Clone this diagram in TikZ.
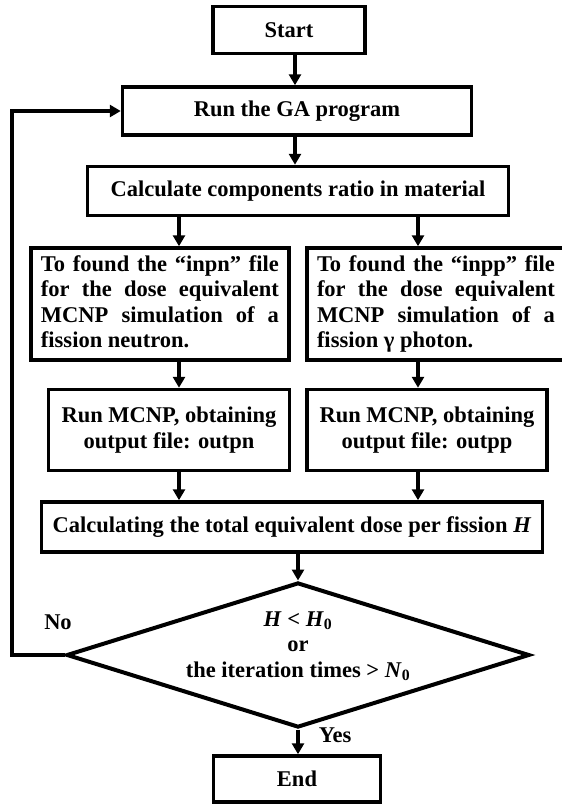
\documentclass[tikz,border=0pt]{standalone}
\usepackage{fontspec}
\setmainfont{Liberation Serif}
\usetikzlibrary{arrows.meta,shapes.geometric}

\begin{document}
\begin{tikzpicture}[x=1pt, y=-1pt,
    every node/.style={font=\fontsize{22.5}{25.5}\selectfont\bfseries},
    box/.style={draw, line width=3.5pt, inner sep=0pt, align=center},
    para/.style={box, inner xsep=10pt, text width=238pt, align=justify},
    arr/.style={line width=3.5pt, -{Triangle[length=11pt, width=12pt]}}]

    \useasboundingbox (0, 0) rectangle (562, 804);

    \node[box, minimum width=152pt, minimum height=47pt] (start) at (289, 30) {Start};
    \node[box, minimum width=349pt, minimum height=48pt] (ga) at (297, 111) {Run the GA program};
    \node[box, minimum width=421pt, minimum height=49pt] (ratio) at (298, 191) {Calculate components ratio in material};
    \node[para, minimum height=112pt] (inpn) at (160, 304) {To found the “inpn” file\linebreak for the dose equivalent\linebreak MCNP simulation of a\linebreak fission neutron.\vphantom{p}};
    \node[para, minimum height=112pt] (inpp) at (436, 304) {To found the “inpp” file\linebreak for the dose equivalent\linebreak MCNP simulation of a\linebreak fission γ photon.};
    \node[box, minimum width=241pt, minimum height=81pt] (outpn) at (169, 430) {Run MCNP, obtaining\\output file: outpn};
    \node[box, minimum width=240pt, minimum height=81pt] (outpp) at (427, 430) {Run MCNP, obtaining\\output file: outpp};
    \node[box, minimum width=501pt, minimum height=50pt] (dose) at (292, 527) {Calculating the total equivalent dose per fission \textit{H}};
    \node[draw, diamond, aspect=3.2, line width=4pt, inner sep=0pt, minimum width=463pt, minimum height=145pt,
        label={[align=center, yshift=9pt]center:\textit{H} < \textit{H}\textsubscript{0}\\or\\the iteration times > \textit{N}\textsubscript{0}}] (test) at (298, 655) {};
    \node[box, minimum width=167pt, minimum height=46pt] (end) at (297, 779) {End};

    \node (no) at (58, 622) {No};
    \node (yes) at (335, 735) {Yes};

    \coordinate (mid) at (295, 0);
    \coordinate (left) at (179, 0);
    \coordinate (right) at (418, 0);
    \coordinate (back) at (12, 400);

    \draw[arr] (start.south -| mid) -- (ga.north -| mid);
    \draw[arr] (ga.south -| mid) -- (ratio.north -| mid);
    \draw[arr] (ratio.south -| left) -- (inpn.north -| left);
    \draw[arr] (ratio.south -| right) -- (inpp.north -| right);
    \draw[arr] (inpn.south -| left) -- (outpn.north -| left);
    \draw[arr] (inpp.south -| right) -- (outpp.north -| right);
    \draw[arr] (outpn.south -| left) -- (dose.north -| left);
    \draw[arr] (outpp.south -| right) -- (dose.north -| right);
    \draw[arr] (dose.south -| test.north) -- (test.north);
    \draw[arr] (test.south) -- (test.south |- end.north);
    \draw[arr] (test.west) -| (back) |- (ga.west);

\end{tikzpicture}
\end{document}
